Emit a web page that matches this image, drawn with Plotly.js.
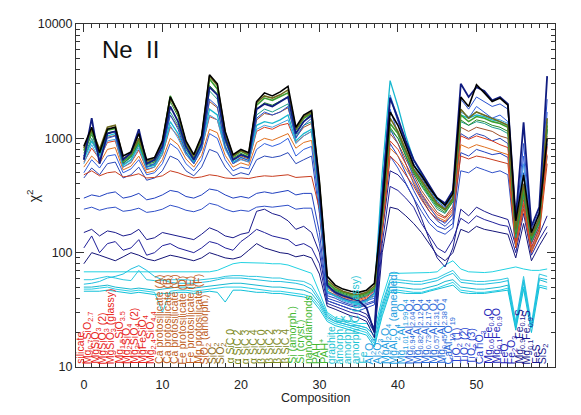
<!DOCTYPE html>
<html>
<head>
<meta charset="utf-8">
<script src="https://cdn.plot.ly/plotly-3.0.1.min.js"></script>
<style>
  html, body { margin: 0; padding: 0; background: #fff; }
  #chart { width: 581px; height: 415px; }
</style>
</head>
<body>
<div id="chart"></div>
<script>
// composition names along the x axis (index = composition number)
var compositions = [
  'silicate', 'Mg<sub>0.7</sub>SiO<sub>2.7</sub>', 'MgSiO<sub>3</sub>', 'MgSiO<sub>3</sub> (2)',
  'MgSiO<sub>3</sub> (glassy)', 'Mg<sub>1.5</sub>SiO<sub>3.5</sub>', 'Mg<sub>2</sub>SiO<sub>4</sub>',
  'Mg<sub>2</sub>SiO<sub>4</sub> (2)', 'MgFeSiO<sub>4</sub>', 'Mg<sub>2.4</sub>SiO<sub>4.4</sub>',
  'Ca protosilicate (A)', 'Ca protosilicate (B)', 'Ca protosilicate (C)',
  'Fe protosilicate (D)', 'Fe protosilicate (E)', 'Mg protosilicate (F)',
  'SiO<sub>2</sub> (amorph.)', 'SiO<sub>2</sub>', 'SiO<sub>2</sub>',
  'α SiC 0', 'α SiC 2', 'α SiC 3', 'α SiC 4', 'β SiC 0', 'β SiC 2', 'β SiC 3', 'β SiC 4',
  'Si (amorph.)', 'Si (cryst.)', 'nanodiamonds', 'PAH', 'PAH<sup>+</sup>',
  'graphite', 'amorph. C', 'amorph. C', 'amorph. C (glassy)', 'Fe',
  'Al<sub>2</sub>O<sub>3</sub>', 'Al<sub>2</sub>O<sub>3</sub>', 'MgAl<sub>2</sub>O<sub>4</sub>',
  'MgAl<sub>2</sub>O<sub>4</sub> (annealed)', 'Mg<sub>1.01</sub>Al<sub>1.99</sub>O<sub>4</sub>',
  'Mg<sub>0.94</sub>Al<sub>2.04</sub>O<sub>4</sub>', 'Mg<sub>0.82</sub>Al<sub>2.12</sub>O<sub>4</sub>',
  'Mg<sub>0.73</sub>Al<sub>2.17</sub>O<sub>4</sub>', 'Mg<sub>0.57</sub>Al<sub>2.31</sub>O<sub>4</sub>',
  'Mg<sub>0.45</sub>Al<sub>2.38</sub>O<sub>4</sub>', 'CaAl<sub>12</sub>O<sub>19</sub>',
  'TiO<sub>2</sub> (1)', 'TiO<sub>2</sub> (2)', 'TiO<sub>2</sub> (3)', 'CaTiO<sub>3</sub>',
  'Mg<sub>0.6</sub>Fe<sub>0.4</sub>O', 'Mg<sub>0.1</sub>Fe<sub>0.9</sub>O', 'FeO',
  'Fe<sub>2</sub>O<sub>3</sub>', 'Mg<sub>0.9</sub>Fe<sub>0.1</sub>S', 'Mg<sub>0.1</sub>Fe<sub>0.9</sub>S',
  'FeS', 'SiS<sub>2</sub>'
];

// label colour groups: last index of each group and its colour
var group_end = [9, 16, 18, 26, 31, 36, 41, 47, 51, 55, 59];
var group_color = ['#e8241a', '#c0601e', '#8a6a14', '#7c8a1e', '#44b832', '#1ec4d4',
                   '#1e9ee0', '#2a6ad8', '#2a46d0', '#2224b8', '#181890'];

// chi^2 curves, one value per composition
var chi_black = [850,1250,750,1200,1250,700,760,1100,650,680, 950,2300,1700,950,720,1050,3600,3000,1150,720,
  800,750,2100,2500,2350,2550,2850,1250,1600,1750, 420,62,52,48,46,45,47,54,240,1700,
  1300,850,580,470,370,300,260,330,2300,1900, 2950,2500,2100,2250,1950,190,480,150,220,1000];
var chi_olive = [820,1200,800,1250,1300,660,730,1000,630,660, 920,2250,1650,920,700,1020,3500,2900,1120,700,
  780,730,2050,2350,2250,2400,2650,1200,1550,1700, 400,58,50,46,44,43,45,51,220,1500,
  1150,780,540,430,340,270,240,300,1800,1500, 1700,1600,1500,1400,1300,160,400,140,200,1500];
var chi_green = [780,1150,780,1180,1220,630,710,960,610,640, 900,2350,1650,900,690,1000,3300,2700,1080,690,
  770,710,1950,2250,2150,2300,2500,1180,1500,1650, 380,55,48,45,43,42,44,49,210,1350,
  1100,760,520,410,320,260,235,290,1600,1400, 1550,1500,1400,1350,1250,150,360,135,195,1300];
var chi_dkgreen = [740,1080,740,1120,1150,610,690,920,590,620, 860,2100,1550,860,670,960,2900,2450,1040,670,
  740,690,1800,2050,1950,2100,2300,1120,1420,1550, 360,54,47,44,42,41,43,48,200,1250,
  1000,700,500,390,310,250,225,280,1450,1300, 1450,1400,1300,1250,1150,145,340,130,185,1200];
var chi_sienna = [680,950,700,1020,1060,590,650,860,560,590, 800,1600,1250,800,640,880,2100,1850,930,640,
  700,660,1450,1650,1600,1700,1850,1020,1250,1350, 330,52,46,43,41,40,42,47,185,1100,
  900,650,470,350,280,225,205,255,1250,1150, 1250,1200,1150,1050,1000,135,310,122,172,1050];
var chi_red = [620,820,660,920,950,560,610,790,530,560, 720,1250,1050,720,600,800,1550,1450,820,600,
  660,620,1150,1250,1200,1300,1350,920,1050,1150, 300,50,45,42,40,39,41,46,175,950,
  800,600,450,330,260,215,200,240,1050,980, 1050,1000,950,880,830,125,290,112,162,850];
var chi_orange = [560,700,600,800,830,530,570,700,500,520, 650,1000,880,660,560,710,1200,1120,710,560,
  610,580,920,1000,960,1020,1100,820,920,960, 270,48,44,41,39,38,40,44,165,820,
  700,540,420,310,245,205,190,230,880,820, 880,840,800,760,720,115,270,105,152,720];
var chi_redflat = [480,520,470,500,510,460,470,490,450,455, 470,520,500,470,450,460,480,470,450,445,
  450,445,460,470,465,470,480,455,460,465, 240,46,43,40,38,37,39,42,150,700,
  600,480,380,290,230,195,185,215,700,660, 700,680,650,620,600,110,240,100,145,600];
var chi_teal = [700,1000,720,1100,1150,600,680,900,580,600, 800,1700,1300,800,640,900,2600,2200,950,640,
  720,680,1600,1800,1700,1850,2000,1050,1300,1400, 320,50,46,43,41,40,42,47,190,1200,
  1000,700,500,380,300,240,220,280,1400,1300, 1400,1350,1250,1200,1100,135,320,125,180,1200];
var chi_cyan = [650,950,700,1050,1100,580,650,880,560,580, 760,1400,1100,760,620,850,1800,1600,850,620,
  680,640,1300,1400,1350,1450,1600,950,1100,1200, 300,46,42,39,37,36,38,44,500,3200,
  1900,1050,650,480,370,290,260,300,1600,1500, 1600,1550,1450,1400,1300,160,380,140,200,1400];
var chi_ltblue = [600,880,650,950,980,560,620,820,540,560, 720,1300,1000,720,600,800,1600,1450,800,600,
  650,620,1200,1300,1250,1350,1450,900,1050,1150, 290,45,41,38,36,35,37,42,380,2400,
  1500,900,580,430,340,270,245,290,1700,1550, 1700,1600,1500,1450,1350,150,600,135,195,1500];
var chi_blue = [700,1150,650,1000,1050,600,700,1100,560,600, 800,1600,1200,750,600,820,2200,1900,850,600,
  680,640,1500,1700,1600,1700,1900,1000,1300,1500, 330,50,44,40,38,37,39,45,350,2300,
  1400,900,600,450,350,280,250,320,2200,1800, 2300,2100,1900,2000,1800,170,900,160,230,2200];
var chi_navy = [650,1500,600,1100,1150,650,750,1200,600,650, 850,1900,1400,850,650,900,2800,2400,1000,650,
  720,680,1800,2000,1900,2100,2300,1100,1400,1600, 350,52,45,42,40,38,33,20,300,2250,
  1500,950,650,500,380,300,270,350,3000,2300, 2800,2600,2150,2300,2000,200,1380,170,250,3500];
var chi_royal = [500,650,550,700,720,500,540,650,480,500, 600,900,800,600,520,650,1100,1000,650,520,
  560,540,800,900,850,900,1000,700,800,850, 250,44,42,39,37,36,38,40,300,1800,
  1100,700,450,320,250,200,180,220,1800,1500, 1900,1700,1500,1600,1400,150,700,140,200,1700];
var chi_steel = [450,550,480,600,620,450,480,560,430,450, 520,700,650,520,470,560,800,750,560,470,
  500,480,650,700,680,700,750,600,650,700, 220,42,40,37,35,34,36,38,250,1200,
  900,600,400,300,230,190,170,200,1100,1000, 1100,1050,950,1000,900,140,500,130,190,1200];
var chi_low1 = [300,320,310,330,340,300,310,330,290,300, 320,350,340,310,300,320,360,350,320,300,
  310,300,330,340,330,340,350,320,330,330, 150,40,38,36,34,33,35,37,200,900,
  700,500,350,260,200,170,160,180,750,700, 800,760,720,740,680,120,400,120,170,900];
var chi_low2 = [240,250,235,245,250,230,235,245,225,230, 240,260,250,235,228,240,270,260,240,228,
  235,230,250,255,250,255,260,240,245,245, 120,38,36,34,32,31,33,35,170,700,
  550,400,300,230,180,155,145,165,520,500, 560,530,500,520,480,110,330,110,160,700];
var chi_mid1 = [150,160,140,155,150,140,145,160,130,135, 150,145,140,135,130,145,165,155,140,135,
  145,150,230,240,220,210,190,160,170,150, 100,38,36,34,32,31,29,22,150,520,
  480,400,300,200,130,90,75,110,240,210, 250,230,215,205,195,115,260,105,145,210];
var chi_mid2 = [110,140,100,120,125,105,110,130,95,100, 115,120,110,105,100,110,125,120,110,105,
  125,140,160,150,140,135,130,115,120,110, 80,36,34,32,30,29,27,20,120,380,
  350,300,250,180,140,110,100,130,200,180, 210,195,185,175,170,100,220,95,130,170];
var chi_mid3 = [80,100,95,90,85,92,100,95,88,85, 90,95,92,88,85,90,100,95,90,88,
  92,105,120,110,105,100,98,92,95,90, 65,34,32,30,28,27,25,18,100,250,
  240,210,180,150,120,95,85,100,160,150, 170,160,155,150,145,90,180,85,115,150];
var chi_cy1 = [68,68,68,68,68,68,67,68,68,68, 68,68,68,68,68,68,68,70,75,80,
  82,82,82,81,80,80,78,74,70,66, 45,30,27,26,25,24,24,21,40,66,
  66,66,66,66,67,68,78,85,72,68, 67,67,68,70,72,75,72,70,70,72];
var chi_cy2 = [58,58,60,62,60,58,57,70,58,57, 57,58,58,58,57,58,59,60,62,63,
  63,62,62,61,60,60,58,57,56,52, 40,29,26,25,24,23,22,19,36,58,
  58,57,56,56,58,60,65,70,58,57, 56,56,57,58,60,25,62,24,65,62];
var chi_cy3 = [50,50,51,52,50,49,48,49,48,47, 48,49,50,50,49,50,51,52,53,54,
  54,53,52,51,50,50,49,48,47,44, 36,27,25,24,23,22,21,17,32,50,
  50,49,48,48,50,52,56,58,50,49, 48,48,49,50,52,22,55,22,58,55];
var chi_cy4 = [48,48,49,50,48,47,46,47,46,45, 30,46,47,47,46,47,48,49,50,50,
  50,49,48,47,46,46,45,44,43,41, 34,26,24,23,22,21,20,16,30,47,
  47,46,45,45,47,49,52,55,47,46, 45,45,46,47,49,24,50,23,52,50];
var chi_cy5 = [46,46,46,47,46,45,44,45,44,43, 44,44,45,45,44,45,46,45,37,47,
  47,46,45,45,44,44,43,42,41,39, 32,25,23,22,21,20,19,15,28,45,
  45,44,44,44,46,48,50,52,45,44, 44,44,45,46,47,21,48,20,50,48];
var chi_cy6 = [53,54,56,60,62,65,72,77,70,62, 58,55,54,54,54,55,56,58,60,60,
  60,59,58,57,56,56,55,54,52,48, 38,28,25,24,23,23,22,19,34,55,
  55,54,53,53,55,57,62,66,55,54, 53,53,54,55,57,23,58,22,60,58];

// drawing order: bottom first
var series = [
  [chi_cy1, '#22d2e2', 1], [chi_cy2, '#30c8e0', 1], [chi_cy3, '#18b8d0', 1],
  [chi_cy4, '#28d0e8', 1], [chi_cy5, '#10c0d8', 1], [chi_cy6, '#20c0e0', 1],
  [chi_mid3, '#141478', 1], [chi_mid2, '#20209a', 1], [chi_mid1, '#1a1a8c', 1],
  [chi_low2, '#3050c8', 1], [chi_low1, '#2040c0', 1], [chi_steel, '#2a48b8', 1],
  [chi_redflat, '#c83c1e', 1], [chi_orange, '#e07020', 1], [chi_red, '#d83a1e', 1],
  [chi_sienna, '#a0502a', 1], [chi_royal, '#3060e0', 1], [chi_ltblue, '#40a0e0', 1],
  [chi_cyan, '#18b8d0', 1.3], [chi_teal, '#1a9a8a', 1], [chi_blue, '#2850d0', 1],
  [chi_dkgreen, '#2a8a2a', 1], [chi_green, '#3ca030', 1.6], [chi_olive, '#6e6a1e', 1.6],
  [chi_navy, '#101c80', 1.8], [chi_black, '#000000', 1.6]
];

var xs = compositions.map(function (c, i) { return i; });

var traces = [];
for (var s = 0; s < series.length; s++) {
  traces.push({
    x: xs, y: series[s][0], type: 'scatter', mode: 'lines',
    line: { color: series[s][1], width: series[s][2] },
    hoverinfo: 'skip', showlegend: false
  });
}

function label_color(i) {
  for (var g = 0; g < group_end.length; g++) { if (i <= group_end[g]) return group_color[g]; }
  return '#000';
}

var font_fam = 'Liberation Sans, Arial, sans-serif';
var annotations = [];
for (var i = 0; i < compositions.length; i++) {
  annotations.push({
    x: i, xref: 'x', y: 0, yref: 'paper', yanchor: 'bottom', yshift: 2,
    xanchor: 'center', xshift: -4, textangle: -90, showarrow: false, borderpad: 0,
    text: compositions[i], font: { family: font_fam, size: 10.5, color: label_color(i) }
  });
}
annotations.push({ x: 0.05, xref: 'paper', y: 0.927, yref: 'paper', xanchor: 'left', yanchor: 'middle',
  showarrow: false, text: 'Ne\u00a0\u00a0II', font: { family: font_fam, size: 24, color: '#111' } });
annotations.push({ x: -0.113, xref: 'paper', y: 0.5, yref: 'paper', textangle: -90, showarrow: false,
  text: 'χ<sup>2</sup>', font: { family: font_fam, size: 14, color: '#222' } });
annotations.push({ x: 0.5, xref: 'paper', y: -0.09, yref: 'paper', yanchor: 'middle', showarrow: false,
  text: 'Composition', font: { family: font_fam, size: 12.5, color: '#222' } });

var layout = {
  width: 581, height: 415,
  margin: { l: 76, r: 26, t: 24, b: 48 },
  paper_bgcolor: '#fff', plot_bgcolor: '#fff',
  showlegend: false,
  xaxis: {
    range: [-1, 60], showgrid: false, zeroline: false,
    showline: true, linecolor: '#333', linewidth: 1, mirror: 'ticks',
    ticks: 'inside', ticklen: 8, tickcolor: '#333',
    tickvals: [0, 10, 20, 30, 40, 50], ticklabelstandoff: 6,
    minor: { ticks: 'inside', ticklen: 4, dtick: 1, tick0: 0, tickcolor: '#333', showgrid: false },
    tickfont: { family: font_fam, size: 12.5, color: '#222' }
  },
  yaxis: {
    type: 'log', range: [1, 4], showgrid: false, zeroline: false,
    showline: true, linecolor: '#333', linewidth: 1, mirror: 'ticks',
    ticks: 'inside', ticklen: 8, tickcolor: '#333',
    tickvals: [10, 100, 1000, 10000], ticktext: ['10', '100', '1000', '10000'],
    minor: { ticks: 'inside', ticklen: 4, tickcolor: '#333', showgrid: false,
      tickvals: [20,30,40,50,60,70,80,90,200,300,400,500,600,700,800,900,2000,3000,4000,5000,6000,7000,8000,9000] },
    tickfont: { family: font_fam, size: 12.5, color: '#222' }
  },
  annotations: annotations
};

Plotly.newPlot('chart', traces, layout, { staticPlot: true, displayModeBar: false });
</script>
</body>
</html>
